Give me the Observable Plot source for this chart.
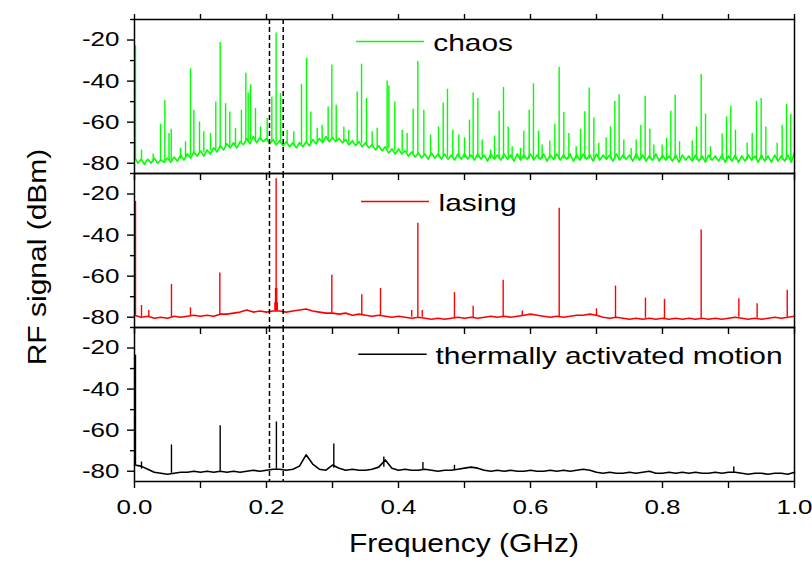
<!DOCTYPE html>
<html><head><meta charset="utf-8">
<script src="https://cdn.jsdelivr.net/npm/d3@7"></script>
<script src="https://cdn.jsdelivr.net/npm/@observablehq/plot@0.6"></script>
<style>body{margin:0;background:#fff;} svg{display:block;}</style>
</head><body><div id="chart"></div>
<script>
// ---------- data ----------
const series = ["chaos", "lasing", "thermally activated motion"];
const seriesColors = ["#00ff00", "#ff0000", "#000000"];
const xMajorTicks = [0, 0.2, 0.4, 0.6, 0.8, 1.0];
const xTickLabels = ["0.0", "0.2", "0.4", "0.6", "0.8", "1.0"];
const xMinorTicks = [0, 0.1, 0.2, 0.3, 0.4, 0.5, 0.6, 0.7, 0.8, 0.9, 1.0];
const yMajorTicks = [-80, -60, -40, -20];
const yMinorTicks = [-70, -50, -30, -10];
const markerFreqs = [0.2045, 0.2253];
const yTitle = "RF signal (dBm)";
const xTitle = "Frequency (GHz)";

// noise floor, sampled every 0.005 GHz (chaos) / 0.01 GHz (others), dBm
const chaosFloor = [
-77,-80,-78,-80.5,-78,-80,-77.5,-80,-78.5,-79.5,
-77.5,-79.5,-77,-79,-76,-78.5,-75.5,-77.5,-74.5,-76.5,
-74,-76.5,-73.5,-75.5,-72.5,-74.5,-71.5,-73.5,-70.5,-72.5,
-70,-72.5,-69.5,-71,-68,-70.5,-67,-70,-67.5,-69.5,
-68,-70.5,-68.5,-71,-69,-71.5,-69.5,-72,-70,-72.5,
-70,-72,-69.5,-71.5,-68.5,-70.5,-68,-70,-67,-69.5,
-67.5,-69.5,-68,-70,-68.5,-71,-69,-71.5,-69.5,-72,
-70,-72.5,-71,-73.5,-71.5,-74,-72,-75,-73,-75.5,
-73,-75.5,-74,-76.5,-74.5,-77,-75,-77.5,-75.5,-78,
-75,-77.5,-75.5,-78,-75.5,-78,-76,-78.5,-75.5,-78,
-75.5,-78,-76,-78.5,-75.5,-78,-76,-79,-75.5,-78,
-76,-78.5,-75.5,-78,-76,-79,-75.5,-78.5,-76,-78,
-75.5,-78.5,-76,-78,-75.5,-79,-76,-78,-75.5,-78.5,
-76,-78,-75.5,-79,-76,-78.5,-75.5,-78,-76,-79,
-75.5,-78.5,-76,-78,-76,-79,-75.5,-78.5,-76,-78,
-76,-79,-75.5,-78.5,-76,-79,-76.5,-78.5,-75.5,-79,
-76,-78.5,-76.5,-79,-76,-79.5,-76,-78.5,-76.5,-79,
-76,-79,-76.5,-79.5,-76,-78.5,-76.5,-79,-76,-79.5,
-76.5,-79,-76,-79.5,-76.5,-79,-76,-78.5,-76.5,-79.5,
-76,-79,-76.5,-79.5,-76,-79,-76.5,-79,-76,-79.5,
-75];
const lasingFloor = [
-79,-80,-79.5,-80.5,-80,-80.5,-79.5,-80,-79.5,-79,
-79.5,-79,-79.5,-78.5,-78.5,-78,-77.5,-76.5,-77.5,-77,
-77.5,-77,-77,-77.5,-77,-76.5,-76,-77,-77.5,-78,
-78,-78.5,-78,-79,-78.5,-79,-79.5,-79,-79.5,-80,
-79.5,-80,-80.5,-80,-80.5,-81,-80.5,-81,-80.5,-80,
-80.5,-80,-80.5,-80,-79.5,-80,-79.5,-80,-79.5,-79,
-78.5,-79,-79.5,-80,-79.5,-80,-79.5,-79,-79,-78.5,
-79,-80,-80.5,-80,-80.5,-81,-80.5,-81,-80.5,-81,
-80.5,-81,-80.5,-81,-80.5,-81,-80.5,-81,-80.5,-81,
-80.5,-80,-80.5,-81,-80.5,-81,-80.5,-80,-80.5,-80,
-79.5];
const thermalFloor = [
-77,-77.5,-79,-80.5,-81,-81.5,-81,-80.5,-80.5,-80,
-80.5,-80,-80.5,-80,-80.5,-80,-80.5,-80,-79.5,-80,
-79.5,-79,-79,-79.5,-79,-77.5,-72,-76.5,-79,-79.5,
-77,-78.5,-79.5,-79,-79.5,-79.5,-79,-78,-74.5,-78.5,
-79.5,-79,-79.5,-79.5,-79,-79.5,-80,-79.5,-79.5,-79,
-78.5,-78,-78.5,-79.5,-80,-79.5,-80,-79.5,-80,-80,
-79.5,-80,-80,-79.5,-80,-79.5,-80,-79.5,-79,-79.5,
-80.5,-81,-80.5,-81,-81,-80.5,-81,-80.5,-80,-81,
-81,-80.5,-81,-80.5,-81,-80.5,-81,-81,-80.5,-81,
-80.5,-80.5,-81,-81.5,-81,-81,-81.5,-81,-81,-81.5,
-80.5];
const floorSteps = [0.005, 0.01, 0.01];

// spikes: [frequency GHz, peak dBm, foot dBm]
const chaosSpikes = [
[0.0015,-22.8,-78],[0.0106,-73.6,-79],[0.0283,-75.5,-79.5],[0.0394,-61.1,-79],[0.046,-49.4,-79],
[0.0523,-65.5,-78.5],[0.0556,-63.5,-78.5],[0.0697,-72.7,-78],[0.0773,-69.5,-77],[0.0848,-34,-76.5],
[0.0899,-54.2,-76],[0.0985,-59.9,-75.5],[0.105,-64.7,-75],[0.1152,-65.5,-74],[0.1232,-50.2,-73.5],
[0.1298,-21.2,-73],[0.138,-51,-72.5],[0.1444,-55,-72],[0.153,-63,-71.5],[0.162,-54.2,-70],
[0.1687,-36.2,-69.5],[0.1722,-45.8,-69.5],[0.1758,-41.8,-69],[0.1833,-53.4,-69],[0.1909,-62.3,-69],
[0.201,-58.2,-69.5],[0.2081,-47.8,-70],[0.2146,-16.6,-70],[0.2212,-46.1,-70.5],[0.2313,-63.9,-71],
[0.2414,-64.7,-71.5],[0.253,-41.6,-71],[0.2606,-28.9,-70.5],[0.2672,-55,-70.5],[0.2768,-63,-70],
[0.2843,-61.5,-69.5],[0.2934,-52.6,-69],[0.299,-32.1,-68.5],[0.3056,-51.8,-69],[0.3172,-62.3,-69.5],
[0.3247,-63.9,-70],[0.3374,-45.3,-70.5],[0.344,-31.8,-70.5],[0.3515,-48.5,-71],[0.3601,-64.7,-72],
[0.3677,-63,-72.5],[0.3828,-40,-73],[0.3854,-42.4,-73],[0.3944,-50.2,-74],[0.4056,-63.9,-74.5],
[0.4131,-65.5,-75],[0.4222,-53.7,-75.5],[0.4293,-30.4,-75.5],[0.4384,-54.2,-76],[0.4485,-66.3,-76.5],
[0.4606,-62.3,-77],[0.4677,-50.7,-77],[0.4742,-44,-77],[0.4823,-63.9,-77],[0.4914,-66.3,-77.5],
[0.5,-67.6,-77.5],[0.5076,-59,-77.5],[0.5131,-45.8,-77.5],[0.5202,-48.5,-77.5],[0.5268,-68.7,-77.5],
[0.5394,-73.6,-78],[0.5455,-66.8,-78],[0.5525,-54.7,-78],[0.5591,-43.1,-78],[0.5662,-62.3,-78],
[0.5722,-72,-78],[0.5848,-72.8,-78],[0.5899,-64.4,-78],[0.598,-54.2,-78],[0.6045,-41.3,-78],
[0.6121,-64.4,-78],[0.6177,-71.1,-78],[0.6293,-69.2,-78],[0.6369,-61,-78],[0.6434,-33.3,-78],
[0.6505,-55.3,-78],[0.6581,-65.5,-78],[0.6692,-72,-78],[0.6758,-63.5,-78],[0.6823,-54.9,-78],
[0.6889,-43.4,-78],[0.696,-57.9,-78],[0.7035,-70.3,-78],[0.7146,-67.6,-78],[0.7212,-62.3,-78],
[0.7278,-49.9,-78],[0.7343,-46.6,-78],[0.7414,-68.7,-78],[0.7525,-72.8,-78],[0.7601,-68.7,-78],
[0.7672,-61.5,-78],[0.7737,-47.4,-78],[0.7808,-63.5,-78],[0.7869,-71.1,-78],[0.7995,-71.1,-78],
[0.8061,-67.9,-78],[0.8126,-54.7,-78],[0.8192,-46.9,-78],[0.8258,-69.5,-78],[0.845,-69.2,-78.5],
[0.8515,-62.3,-78.5],[0.8586,-36.8,-78.5],[0.8652,-56.1,-78.5],[0.8727,-72,-78.5],[0.8904,-65.8,-78.5],
[0.897,-57.4,-78.5],[0.9035,-52.1,-78.5],[0.9106,-63.9,-78.5],[0.9283,-70.3,-78.5],[0.9359,-65.5,-78.5],
[0.9424,-49.9,-78.5],[0.9495,-48.5,-78.5],[0.9566,-62.3,-78.5],[0.9737,-70.3,-78.5],[0.9813,-61.5,-78.5],
[0.9879,-51.4,-78.5],[0.9944,-56.3,-78.5]];
const lasingSpikes = [
[0.0015,-23.6,-79],[0.0106,-74.3,-80],[0.0217,-76.7,-80],[0.056,-64,-80],[0.0848,-75.4,-79.5],
[0.1293,-58.4,-79],[0.2128,-73,-77],[0.2137,-66,-77],[0.2146,-12.6,-77],[0.2155,-66,-77],[0.2164,-73,-77],
[0.299,-59.6,-78],[0.3444,-69,-79],[0.3727,-66,-79.5],[0.42,-76.7,-80],[0.4293,-34.2,-80],
[0.436,-76.7,-80],[0.4848,-68,-80.5],[0.5131,-74.6,-80.5],[0.5586,-62,-80],[0.5876,-77,-79.5],
[0.6435,-26.9,-80],[0.70,-75.9,-79.5],[0.7288,-64.8,-80.5],[0.7742,-70.7,-80.5],[0.803,-71.3,-81],
[0.8586,-37.5,-80.5],[0.9157,-71,-80],[0.9434,-73.4,-80.5],[0.989,-66.9,-80]];
const thermalSpikes = [
[0.0015,-23.5,-77],[0.0106,-75.5,-79],[0.056,-67.2,-81],[0.1298,-57.9,-80],[0.215,-56,-79],
[0.302,-66.7,-78.5],[0.3778,-73.1,-78],[0.437,-75.8,-79.5],[0.4848,-77.1,-79.5],[0.908,-77.9,-81]];

// ---------- tables ----------
const floors = [chaosFloor, lasingFloor, thermalFloor];
const spikes = [chaosSpikes, lasingSpikes, thermalSpikes];
const floorRows = floors.flatMap((vals, k) => vals.map((v, i) => ({s: series[k], f: +(i * floorSteps[k]).toFixed(4), v})));
const spikeRows = spikes.flatMap((list, k) => list.map(([f, top, base]) => ({s: series[k], f, top, base})));

// legend placement (layout, not data)
const legendLine = [[0.3364, 0.4394, -20.7], [0.344, 0.447, -23.6], [0.3398, 0.4435, -23]];
const legendText = [0.4526, 0.4606, 0.456];
const legendRows = series.map((s, k) => ({s, x1: legendLine[k][0], x2: legendLine[k][1], y: legendLine[k][2], tx: legendText[k]}));

const font = "'Liberation Sans', Arial, Helvetica, sans-serif";
const plot = Plot.plot({
  width: 812, height: 563,
  marginTop: 18, marginBottom: 82, marginLeft: 134, marginRight: 18,
  style: {fontFamily: font, fontSize: "20px", color: "#000", background: "#fff"},
  x: {domain: [0, 1]},
  y: {domain: [-85, -10]},
  fy: {domain: series, padding: 0, axis: null},
  color: {domain: series, range: seriesColors},
  marks: [
    Plot.line(floorRows, {x: "f", y: "v", fy: "s", z: "s", stroke: "s", strokeWidth: 1.6}),
    Plot.ruleX(spikeRows, {x: "f", y1: "base", y2: "top", fy: "s", stroke: "s", strokeWidth: 1.4}),
    Plot.ruleX(markerFreqs, {stroke: "#000", strokeWidth: 1.5, strokeDasharray: "5,3"}),
    Plot.ruleY(legendRows, {fy: "s", y: "y", x1: "x1", x2: "x2", stroke: "s", strokeWidth: 1.5}),
    Plot.text(legendRows, {fy: "s", x: "tx", y: "y", text: "s", textAnchor: "start", fontSize: 23, dy: 2, fill: "#000"}),
    Plot.axisY({ticks: yMajorTicks, tickSize: 7, tickPadding: 8, tickFormat: d => String(d), label: null, strokeWidth: 1.4}),
    Plot.axisY({ticks: yMinorTicks, tickSize: 4, tickFormat: () => "", label: null, strokeWidth: 1.4}),
    Plot.axisX({anchor: "bottom", facetAnchor: null, ticks: xMinorTicks, tickSize: 7, tickFormat: () => "", label: null, strokeWidth: 1.4}),
    Plot.axisX({anchor: "top", ticks: xMinorTicks, tickSize: 6, tickFormat: () => "", label: null, strokeWidth: 1.4}),
    Plot.axisX({anchor: "bottom", ticks: xMajorTicks, tickSize: 0, tickPadding: 18, tickFormat: d => xTickLabels[xMajorTicks.indexOf(d)], label: null}),
    Plot.frame({stroke: "#000", strokeWidth: 1.5})
  ]
});

const svg = d3.select(plot);
// horizontal stretch of lettering to match the reference's wide type
function stretchText(sel, s) {
  sel.each(function () {
    const t = d3.select(this);
    let tr = t.attr("transform") || "";
    const xa = t.attr("x");
    if (xa != null && !isNaN(+xa)) { tr += ` translate(${+xa},0)`; t.attr("x", null); }
    t.attr("transform", tr + ` scale(${s},1)`);
  });
}
stretchText(svg.selectAll("text"), 1.3);

svg.append("text")
  .attr("transform", "translate(37,257) rotate(-90) scale(1.2,1)")
  .attr("text-anchor", "middle").attr("dy", "0.35em")
  .style("font-family", font).style("font-size", "25px").attr("fill", "#000")
  .text(yTitle);
svg.append("text")
  .attr("transform", "translate(464,552) scale(1.2,1)")
  .attr("text-anchor", "middle")
  .style("font-family", font).style("font-size", "25px").attr("fill", "#000")
  .text(xTitle);

document.getElementById("chart").appendChild(plot);
</script>
</body></html>
